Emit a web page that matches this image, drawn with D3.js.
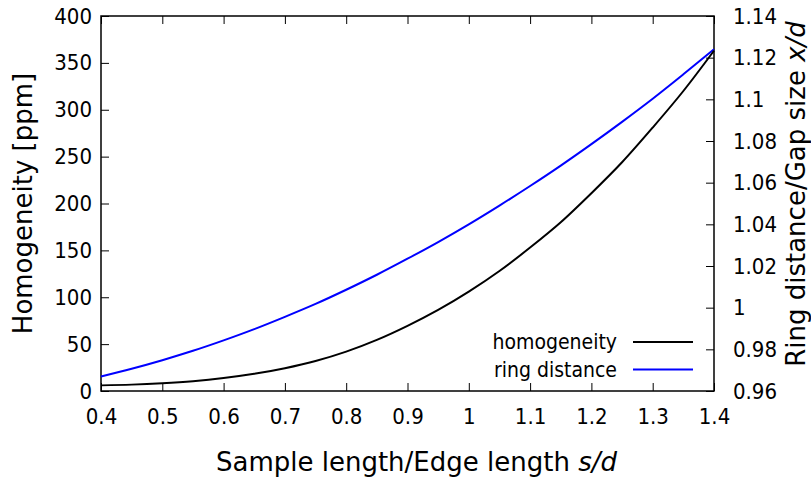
<!DOCTYPE html>
<html>
<head>
<meta charset="utf-8">
<script src="https://cdn.jsdelivr.net/npm/d3@7"></script>
<style>
  body { margin: 0; background: #fff; }
  svg { display: block; }
  text { font-family: "DejaVu Sans Condensed", "DejaVu Sans", sans-serif; font-stretch: condensed; fill: #000; }
  text.title { font-family: "DejaVu Sans", sans-serif; font-stretch: normal; font-size: 26px; }
</style>
</head>
<body>
<svg id="chart" width="811" height="481"></svg>
<script>
// sample length / edge length s/d
const ratio = [0.40, 0.45, 0.50, 0.55, 0.60, 0.65, 0.70, 0.75, 0.80, 0.85, 0.90,
  0.95, 1.00, 1.05, 1.10, 1.15, 1.20, 1.25, 1.30, 1.35, 1.40];
// homogeneity [ppm], left axis
const homogeneity = [6.0, 6.8, 8.3, 10.5, 13.8, 18.3, 24.3, 32, 42, 54.5, 69.5,
  86.5, 106, 128, 153, 180, 211, 244, 281, 320, 363];
// ring distance / gap size x/d, right axis
const ringDistance = [0.9670, 0.9707, 0.9748, 0.9793, 0.9843, 0.9897, 0.9956, 1.0018, 1.0086, 1.0158, 1.0235,
  1.0315, 1.0400, 1.0490, 1.0584, 1.0682, 1.0785, 1.0892, 1.1003, 1.1120, 1.1240];

const xTicks = [0.4, 0.5, 0.6, 0.7, 0.8, 0.9, 1.0, 1.1, 1.2, 1.3, 1.4];
const yTicks = [0, 50, 100, 150, 200, 250, 300, 350, 400];
const y2Ticks = [0.96, 0.98, 1.00, 1.02, 1.04, 1.06, 1.08, 1.10, 1.12, 1.14];

const svg = d3.select('#chart');
const margin = { top: 16, right: 97, bottom: 90, left: 101 };
const width = +svg.attr('width') - margin.left - margin.right;
const height = +svg.attr('height') - margin.top - margin.bottom;
const g = svg.append('g').attr('transform', `translate(${margin.left},${margin.top})`);

const x = d3.scaleLinear().domain([0.4, 1.4]).range([0, width]);
const y = d3.scaleLinear().domain([0, 400]).range([height, 0]);
const y2 = d3.scaleLinear().domain([0.96, 1.14]).range([height, 0]);

const fmt = d => String(+d.toFixed(2));

function style(sel) {
  sel.select('.domain').remove();
  sel.selectAll('.tick line').attr('stroke', '#000').attr('stroke-width', 1);
  sel.selectAll('.tick text').style('font-size', '22px').attr('fill', '#000');
}

g.append('g').attr('transform', `translate(0,${height})`)
  .call(d3.axisBottom(x).tickValues(xTicks).tickFormat(fmt).tickSize(-8).tickPadding(17))
  .call(style);
g.append('g')
  .call(d3.axisTop(x).tickValues(xTicks).tickFormat('').tickSize(-8))
  .call(style);
g.append('g')
  .call(d3.axisLeft(y).tickValues(yTicks).tickFormat(fmt).tickSize(-8).tickPadding(9))
  .call(style);
g.append('g').attr('transform', `translate(${width},0)`)
  .call(d3.axisRight(y2).tickValues(y2Ticks).tickFormat(fmt).tickSize(-8).tickPadding(19))
  .call(style);

// border
g.append('rect')
  .attr('width', width).attr('height', height)
  .attr('fill', 'none').attr('stroke', '#000').attr('stroke-width', 1.5);

// curves
const lineH = d3.line()
  .x((d, i) => x(ratio[i]))
  .y(d => y(d))
  .curve(d3.curveMonotoneX);
const lineR = d3.line()
  .x((d, i) => x(ratio[i]))
  .y(d => y2(d))
  .curve(d3.curveMonotoneX);

g.append('path').datum(ringDistance)
  .attr('d', lineR).attr('fill', 'none').attr('stroke', '#0000ff').attr('stroke-width', 2);
g.append('path').datum(homogeneity)
  .attr('d', lineH).attr('fill', 'none').attr('stroke', '#000').attr('stroke-width', 2);

// legend
const legend = [
  { name: 'homogeneity', color: '#000' },
  { name: 'ring distance', color: '#0000ff' }
];
const lg = g.append('g').attr('transform', `translate(${617 - margin.left},${342 - margin.top})`);
legend.forEach(function (d, i) {
  lg.append('text')
    .attr('x', 0).attr('y', i * 27.5)
    .attr('dy', '0.35em')
    .attr('text-anchor', 'end')
    .style('font-size', '21px')
    .text(d.name);
  lg.append('line')
    .attr('x1', 16).attr('x2', 76)
    .attr('y1', i * 27.5).attr('y2', i * 27.5)
    .attr('stroke', d.color).attr('stroke-width', 2);
});

// axis titles
const xt = svg.append('text').attr('class', 'title')
  .attr('x', margin.left + width / 2 + 9).attr('y', 471)
  .attr('text-anchor', 'middle');
xt.append('tspan').text('Sample length/Edge length ');
xt.append('tspan').style('font-style', 'italic').text('s/d');

svg.append('text').attr('class', 'title')
  .attr('transform', `translate(32,${margin.top + height / 2}) rotate(-90)`)
  .attr('text-anchor', 'middle')
  .text('Homogeneity [ppm]');

const yt2 = svg.append('text').attr('class', 'title')
  .attr('transform', `translate(805,194) rotate(-90)`)
  .attr('text-anchor', 'middle');
yt2.append('tspan').text('Ring distance/Gap size ');
yt2.append('tspan').style('font-style', 'italic').text('x/d');
</script>
</body>
</html>
